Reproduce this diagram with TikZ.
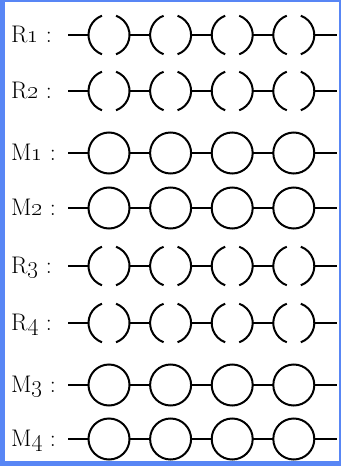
\RequirePackage{fix-cm}
\documentclass[tikz,border=0pt]{standalone}
\usepackage{tikz}
\usetikzlibrary{calc}
\definecolor{frameBlue}{RGB}{88, 134, 245}

\begin{document}
\begin{tikzpicture}[x=1pt, y=1pt, line width=2pt,
    font=\fontsize{24}{28}\selectfont,
    ring/.style={circle, draw, minimum size=41pt, inner sep=0pt, outer sep=0pt},
    splitring/.style={circle, minimum size=41pt, inner sep=0pt, outer sep=0pt}]
  \def\gap{61.6}
  \def\rad{20.5pt}

  % Frame
  \fill[frameBlue] (0,0) rectangle (341,-466);
  \fill[white] (5,-2) rectangle (338.5,-461);
  \useasboundingbox (0,0) rectangle (341,-468);

  % Rows of rings
  \foreach \r/\lab/\y/\kind in {1/R\oldstylenums{1}/35/splitring, 2/R\oldstylenums{2}/91/splitring,
      3/M\oldstylenums{1}/153/ring, 4/M\oldstylenums{2}/208/ring,
      5/R\oldstylenums{3}/266/splitring, 6/R\oldstylenums{4}/323/splitring,
      7/M\oldstylenums{3}/385/ring, 8/M\oldstylenums{4}/439/ring} {
    \node[anchor=base west, inner sep=0pt] (lab\r) at (10,-\y-7.5) {\lab\ :};
    \coordinate (s\r) at (68,-\y);
    \coordinate (e\r) at (337,-\y);
    \foreach \c in {1,...,4}
      \node[\kind] (c\r\c) at ({109+(\c-1)*\gap},-\y) {};
    \draw (s\r) -- (c\r1) -- (c\r2) -- (c\r3) -- (c\r4) -- (e\r);
  }

  % Broken rings
  \foreach \r in {1,2,5,6}
    \foreach \c in {1,...,4} {
      \draw (c\r\c.110) arc[start angle=110, end angle=250, radius=\rad];
      \draw (c\r\c.-70) arc[start angle=-70, end angle=70, radius=\rad];
    }
\end{tikzpicture}
\end{document}
